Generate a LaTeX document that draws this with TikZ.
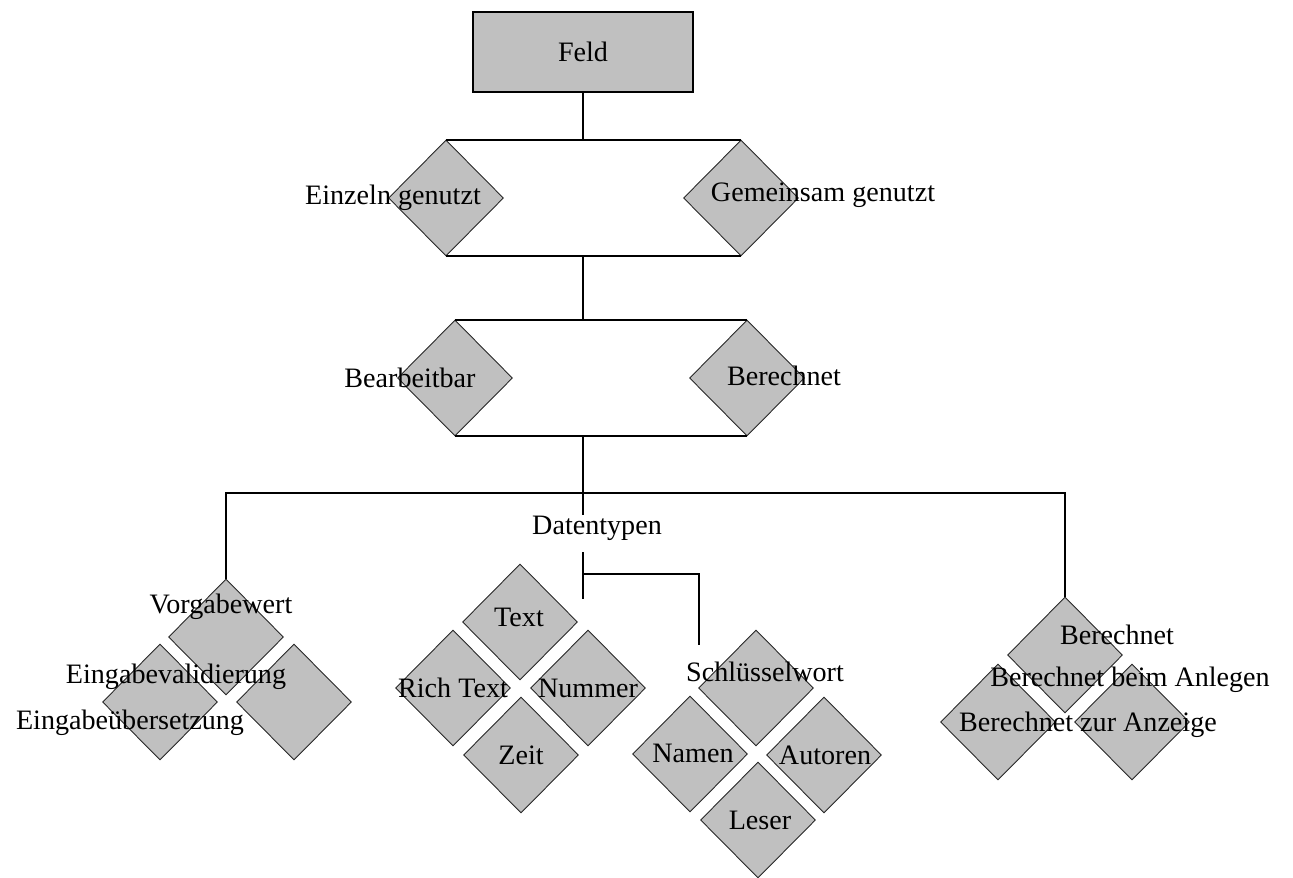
\documentclass[tikz,border=0pt]{standalone}
\usepackage{fontspec}
\setmainfont{Liberation Serif}
\usetikzlibrary{shapes.geometric}
\definecolor{feldgrau}{RGB}{192,192,192}

\tikzset{
  raute/.style={diamond, draw=black!85, fill=feldgrau, line width=0.5pt,
    inner sep=0pt, minimum width=2.3cm, minimum height=2.32cm},
  lbl/.style={font=\fontsize{16}{18}\selectfont, inner sep=0pt},
  verb/.style={line width=1.1pt}
}

\begin{document}
\begin{tikzpicture}[x=0.02cm, y=-0.02cm]
  \useasboundingbox (0,0) rectangle (1293,877);
  % root box
  \node[lbl, draw, line width=1.1pt, fill=feldgrau, minimum width=4.4cm,
    minimum height=1.6cm] (feld) at (583,52) {Feld};
  % first level: shared or not
  \node[raute] (ein) at (446,198) {};
  \node[raute] (gem) at (741,198) {};
  % second level: editable or computed
  \node[raute] (bea) at (455,378) {};
  \node[raute] (ber) at (747,378) {};
  % left group
  \node[raute] (vor) at (226,637) {};
  \node[raute] (val) at (160,702) {};
  \node[raute] (uebs) at (294,702) {};
  % data types
  \node[raute] (txt) at (520,622) {};
  \node[raute] (rich) at (453,688) {};
  \node[raute] (num) at (588,688) {};
  \node[raute] (zeit) at (521,755) {};
  % keyword types
  \node[raute] (sw) at (756,688) {};
  \node[raute] (nam) at (690,754) {};
  \node[raute] (aut) at (824,755) {};
  \node[raute] (les) at (758,820) {};
  % computed group
  \node[raute] (bc) at (1065,655) {};
  \node[raute] (bca) at (998,722) {};
  \node[raute] (bcz) at (1132,722) {};

  % labels
  \node[lbl] (l-ein) at (393,198) {Einzeln genutzt};
  \node[lbl] (l-gem) at (823,195) {Gemeinsam genutzt};
  \node[lbl] (l-bea) at (410,378) {Bearbeitbar};
  \node[lbl] (l-ber) at (784,376) {Berechnet};
  \node[lbl] (l-dat) at (597,528) {Datentypen};
  \node[lbl] (l-vor) at (221,607) {Vorgabewert};
  \node[lbl] (l-val) at (176,677) {Eingabevalidierung};
  \node[lbl] (l-uebs) at (130,723) {Eingabeübersetzung};
  \node[lbl] (l-txt) at (519,617) {Text};
  \node[lbl] (l-rich) at (453,688) {Rich Text};
  \node[lbl] (l-num) at (588,688) {Nummer};
  \node[lbl] (l-zeit) at (521,755) {Zeit};
  \node[lbl] (l-sw) at (765,672) {Schlüsselwort};
  \node[lbl] (l-nam) at (693,753) {Namen};
  \node[lbl] (l-aut) at (825,755) {Autoren};
  \node[lbl] (l-les) at (760,820) {Leser};
  \node[lbl] (l-bc) at (1117,635) {Berechnet};
  \node[lbl] (l-bca) at (1130,680) {Berechnet beim Anlegen};
  \node[lbl] (l-bcz) at (1088,725) {Berechnet zur Anzeige};

  % connectors
  \draw[verb] (feld.south) -- (feld.south |- ein.north);
  \draw[verb] (ein.north) -- (gem.north);
  \draw[verb] (ein.south) -- (gem.south);
  \draw[verb] (feld.south |- ein.south) -- (feld.south |- bea.north);
  \draw[verb] (bea.north) -- (ber.north);
  \draw[verb] (bea.south) -- (ber.south);
  \coordinate (gabel) at (583,493);
  \coordinate (ast) at (583,574);
  \coordinate (dt-start) at (583,552);
  \coordinate (dt-ende) at (583,599);
  \coordinate (sw-ende) at (699,645);
  \draw[verb] (feld.south |- bea.south) -- (gabel);
  \draw[verb] (vor.north) |- (gabel) -| (bc.north);
  \draw[verb] (gabel) -- (gabel |- l-dat.north);
  \draw[verb] (dt-start) -- (dt-ende);
  \draw[verb] (ast) -| (sw-ende);
\end{tikzpicture}
\end{document}
